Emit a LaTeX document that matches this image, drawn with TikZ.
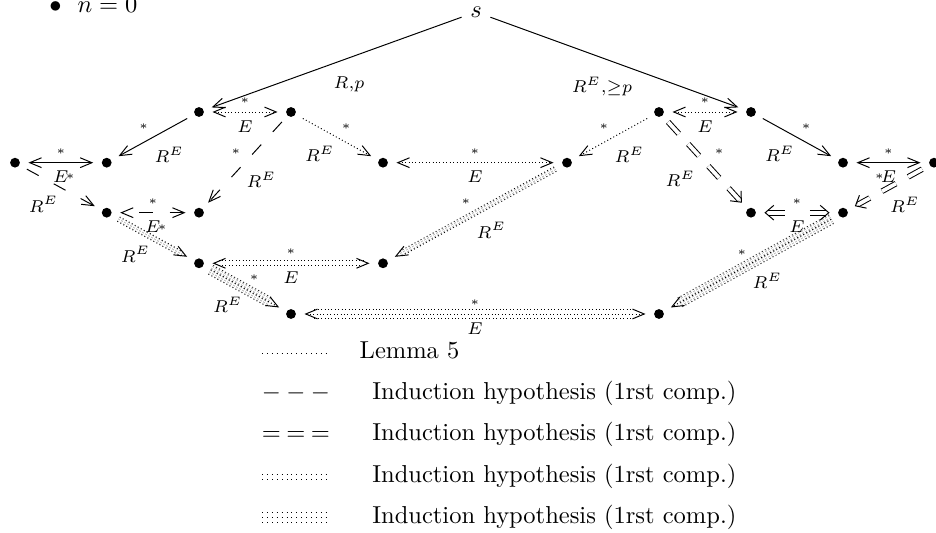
\documentclass[tikz,border=0pt]{standalone}
\usetikzlibrary{arrows.meta, positioning}

\tikzset{
  pnt/.style={circle, fill, inner sep=0pt, minimum size=4pt, outer sep=3.5pt},
  lab/.style={font=\scriptsize, inner sep=1pt},
  ast/.style={font=\tiny, inner sep=1pt},
  astH/.style={ast, above=2.2pt},
  astL/.style={ast, above left=2.2pt and .7pt},
  astR/.style={ast, above right=2pt and .7pt},
  subH/.style={lab, below=2.3pt},
  subL/.style={lab, below left=2.3pt and 0pt},
  subR/.style={lab, below right=2.6pt and -.5pt},
  hd/.style={-{Straight Barb[length=4.8pt,width=4pt]}},
  hdd/.style={{Straight Barb[length=4.8pt,width=4pt]}-{Straight Barb[length=4.8pt,width=4pt]}},
  hdB/.style={-{Straight Barb[length=3.5pt,width=6pt]}},
  hddB/.style={{Straight Barb[length=3.5pt,width=6pt]}-{Straight Barb[length=3.5pt,width=6pt]}},
  lemma/.style={dash pattern=on .4pt off 1pt},
  ihA/.style={dash pattern=on 5.5pt off 7pt},
  ihB/.style={double, double distance=1.5pt, dash pattern=on 6.5pt off 5.7pt},
  ihC/.style={double, double distance=1.6pt, lemma},
  ihD/.style={double, double distance=3.6pt, lemma},
  tiponly/.style={dash pattern=on 0pt off 500pt},
  sample/.style={dash pattern=on .4pt off 1.6pt},
}

\begin{document}
\begin{tikzpicture}[x=0.408pt, y=-0.408pt]

    \useasboundingbox (0,0) rectangle (936,533);

    % 标题
    \node[anchor=base west, inner sep=0pt] (n0) at (49,12.5) {$\bullet$\hspace{6.5pt}$n=0$};

    % 画点
    \node (s) at (476,12) {$s$};
    \node[pnt] (u1) at (199,112) {};
    \node[pnt] (u2) at (291,112) {};
    \node[pnt] (u3) at (659,112) {};
    \node[pnt] (u4) at (751,112) {};
    \node[pnt] (m1) at (15,162.7) {};
    \node[pnt] (m2) at (106.7,162.7) {};
    \node[pnt] (m3) at (383,162.7) {};
    \node[pnt] (m4) at (567,162.7) {};
    \node[pnt] (m5) at (843,162.7) {};
    \node[pnt] (m6) at (934,162.7) {};
    \node[pnt] (l1) at (106.7,212.7) {};
    \node[pnt] (l2) at (199,212.7) {};
    \node[pnt] (l3) at (751,212.7) {};
    \node[pnt] (l4) at (843,212.7) {};
    \node[pnt] (p1) at (199,263.3) {};
    \node[pnt] (p2) at (383,263.3) {};
    \node[pnt] (q1) at (291,314) {};
    \node[pnt] (q2) at (659,314) {};

    % 从 s 出发
    \draw[hd] (s) -- (u1) node[pos=.45, below=6.5pt, lab] {$R{,}p$};
    \draw[hd] (s) -- (u4) node[pos=.45, below=6.5pt, lab] {$R^E{,}{\geq}p$};

    % 左边
    \draw[hdd, lemma] (u1) -- node[astH] {$*$} node[subH] {$E$} (u2);
    \draw[hd] (u1) -- node[astL] {$*$} node[subR] {$R^E$} (m2);
    \draw[hd, lemma] (u2) -- node[astR] {$*$} node[subL] {$R^E$} (m3);
    \draw[hd, ihA] (u2) -- node[astL] {$*$} node[subR] {$R^E$} (l2);
    \draw[hdd] (m1) -- node[astH] {$*$} node[subH] {$E$} (m2);
    \draw[hd, ihA] (m1) -- node[astR] {$*$} node[subL] {$R^E$} (l1);
    \draw[hdd, ihA, dash phase=5.5pt] (l1) -- node[astH] {$*$} node[subH] {$E$} (l2);
    \draw[ihC, shorten >=2.5pt] (l1) -- node[astR] {$*$} node[subL] {$R^E$} (p1);
    \draw[hd, tiponly] (l1) -- (p1);
    \draw[ihC, shorten <=2.5pt, shorten >=2.5pt] (p1) -- node[astH] {$*$} node[subH] {$E$} (p2);
    \draw[hdd, tiponly] (p1) -- (p2);
    \draw[ihD, shorten >=4pt] (p1) -- (q1);
    \draw[hd, lemma] (p1) -- node[astR] {$*$} node[subL] {$R^E$} (q1);

    % 中间
    \draw[hdd, lemma] (m3) -- node[astH] {$*$} node[subH] {$E$} (m4);
    \draw[ihC, shorten >=2.5pt] (m4) -- node[astL] {$*$} node[subR] {$R^E$} (p2);
    \draw[hd, tiponly] (m4) -- (p2);
    \draw[ihD, shorten <=4pt, shorten >=4pt] (q1) -- (q2);
    \draw[hdd, lemma] (q1) -- node[astH] {$*$} node[subH] {$E$} (q2);

    % 右边
    \draw[hdd, lemma] (u3) -- node[astH] {$*$} node[subH] {$E$} (u4);
    \draw[hd, lemma] (u3) -- node[astL] {$*$} node[subR] {$R^E$} (m4);
    \draw[ihB, shorten >=1.5pt] (u3) -- node[astR, xshift=2pt] {$*$} node[subL, xshift=-3pt] {$R^E$} (l3);
    \draw[hdB, tiponly] (u3) -- (l3);
    \draw[hd] (u4) -- node[astR] {$*$} node[subL] {$R^E$} (m5);
    \draw[hdd] (m5) -- node[astH] {$*$} node[subH] {$E$} (m6);
    \draw[ihB, shorten >=1.5pt] (m6) -- node[astL] {$*$} node[subR] {$R^E$} (l4);
    \draw[hdB, tiponly] (m6) -- (l4);
    \draw[ihB, dash pattern=on 7pt off 10pt, shorten <=1.5pt, shorten >=1.5pt] (l3) -- node[astH] {$*$} node[subH] {$E$} (l4);
    \draw[hddB, tiponly] (l3) -- (l4);
    \draw[ihD, shorten >=4pt] (l4) -- (q2);
    \draw[hd, lemma] (l4) -- node[astL] {$*$} node[subR] {$R^E$} (q2);

    % 图例
    \draw[sample] (262,353) -- (328,353);
    \draw[ihC, sample] (262,476.8) -- (328,476.8);
    \draw[ihD, sample] (262,517.7) -- (328,517.7);
    \draw[sample] (262,517.7) -- (328,517.7);
    \node[anchor=base west, inner sep=0pt] (dsh) at (261.3,400) {${-}\:{-}\:{-}$};
    \node[anchor=base west, inner sep=0pt] (dbl) at (261.3,441) {${=}\:{=}\:{=}$};

    \node[anchor=base west, inner sep=0pt] (lem) at (359.2,358.7) {Lemma 5};
    \node[anchor=base west, inner sep=0pt] (ih1) at (371.8,400) {Induction hypothesis (1rst comp.)};
    \node[anchor=base west, inner sep=0pt] (ih2) at (371.8,441) {Induction hypothesis (1rst comp.)};
    \node[anchor=base west, inner sep=0pt] (ih3) at (371.8,482.8) {Induction hypothesis (1rst comp.)};
    \node[anchor=base west, inner sep=0pt] (ih4) at (371.8,523.7) {Induction hypothesis (1rst comp.)};

  \end{tikzpicture}
\end{document}
